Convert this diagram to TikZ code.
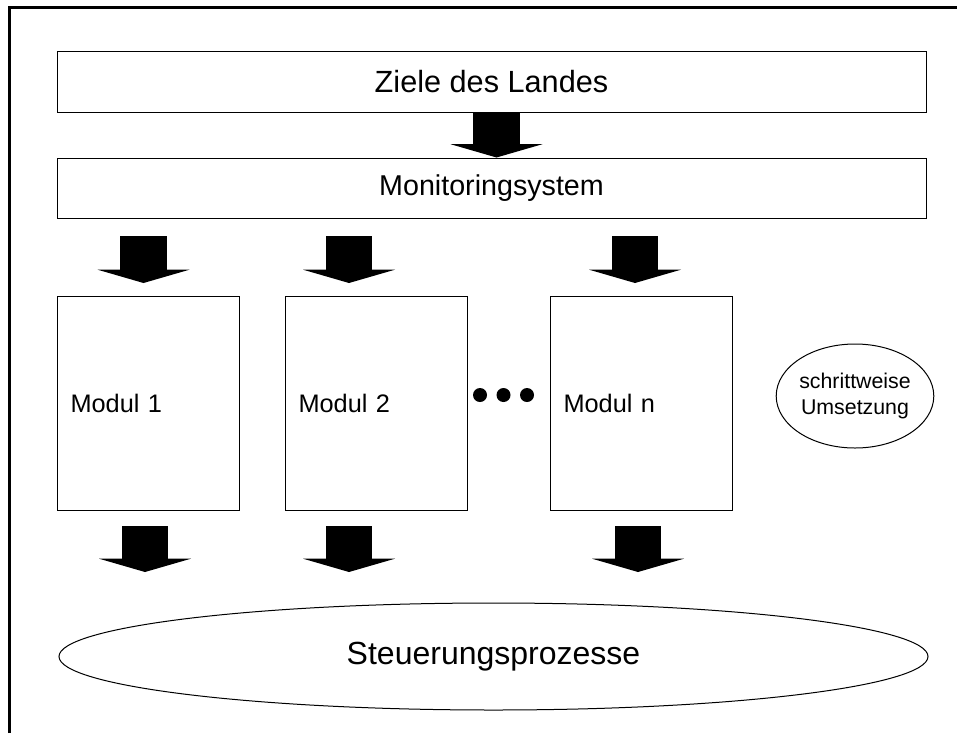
\documentclass[tikz,border=0pt]{standalone}
\usepackage{fontspec}
\setmainfont{Liberation Sans}
\usetikzlibrary{arrows.meta,positioning,shapes.geometric,calc}

\begin{document}
\begin{tikzpicture}[x=0.75pt,y=-0.75pt,line join=miter,
  box/.style={draw,line width=0.75pt,inner sep=0pt},
  modbox/.style={box,minimum width=136.5pt,minimum height=160.5pt,
    text width=117pt,align=left,font=\fontsize{19}{23}\selectfont},
  blockarrow/.style={line width=35pt,
    -{Triangle[line width=0pt,length=10pt,width=69pt]}}]
\useasboundingbox (0,0) rectangle (957,733);
% frame (top and left edge only)
\draw[line width=2.25pt] (9,733) -- (9,7) -- (957,7);
% boxes
\node[box,minimum width=651.75pt,minimum height=45.75pt,
  font=\fontsize{23}{27}\selectfont] (ziele) at (491.5,81.5) {Ziele des Landes};
\node[box,minimum width=651.75pt,minimum height=45pt,
  font=\fontsize{21.5}{25}\selectfont] (monitor) at (491.5,188) {Monitoringsystem};
\node[modbox] (modul1) at (148.5,403) {Modul 1};
\node[modbox] (modul2) at (376.5,403) {Modul 2};
\node[modbox] (moduln) at (641.5,403) {Modul n};
% dots between module 2 and module n
\fill (480,395) circle[radius=5.25pt];
\fill (503.5,395) circle[radius=5.25pt];
\fill (527,395) circle[radius=5.25pt];
\node[draw,ellipse,line width=0.75pt,minimum width=102pt,minimum height=78pt,
  inner sep=0pt,align=center,font=\fontsize{16}{19}\selectfont]
  (schritt) at (855,396) {schrittweise\\Umsetzung};
\node[draw,ellipse,line width=0.75pt,minimum width=651.75pt,minimum height=80.25pt,
  inner sep=0pt,font=\fontsize{24}{28}\selectfont] (steuer) at (493.5,656.5) {Steuerungsprozesse};
% arrow ends
\coordinate (in1) at (143.5,236);  \coordinate (in1e) at (143.5,283);
\coordinate (in2) at (349,236);    \coordinate (in2e) at (349,283);
\coordinate (inn) at (635,236);    \coordinate (inne) at (635,283);
\coordinate (out1) at (145,526);   \coordinate (out1e) at (145,572);
\coordinate (out2) at (349,526);   \coordinate (out2e) at (349,572);
\coordinate (outn) at (638,526);   \coordinate (outne) at (638,572);
% arrows
\draw[blockarrow] ([xshift=3.75pt]ziele.south) -- ([xshift=3.75pt]monitor.north);
\draw[blockarrow] (in1) -- (in1e);
\draw[blockarrow] (in2) -- (in2e);
\draw[blockarrow] (inn) -- (inne);
\draw[blockarrow] (out1) -- (out1e);
\draw[blockarrow] (out2) -- (out2e);
\draw[blockarrow] (outn) -- (outne);
\end{tikzpicture}
\end{document}
